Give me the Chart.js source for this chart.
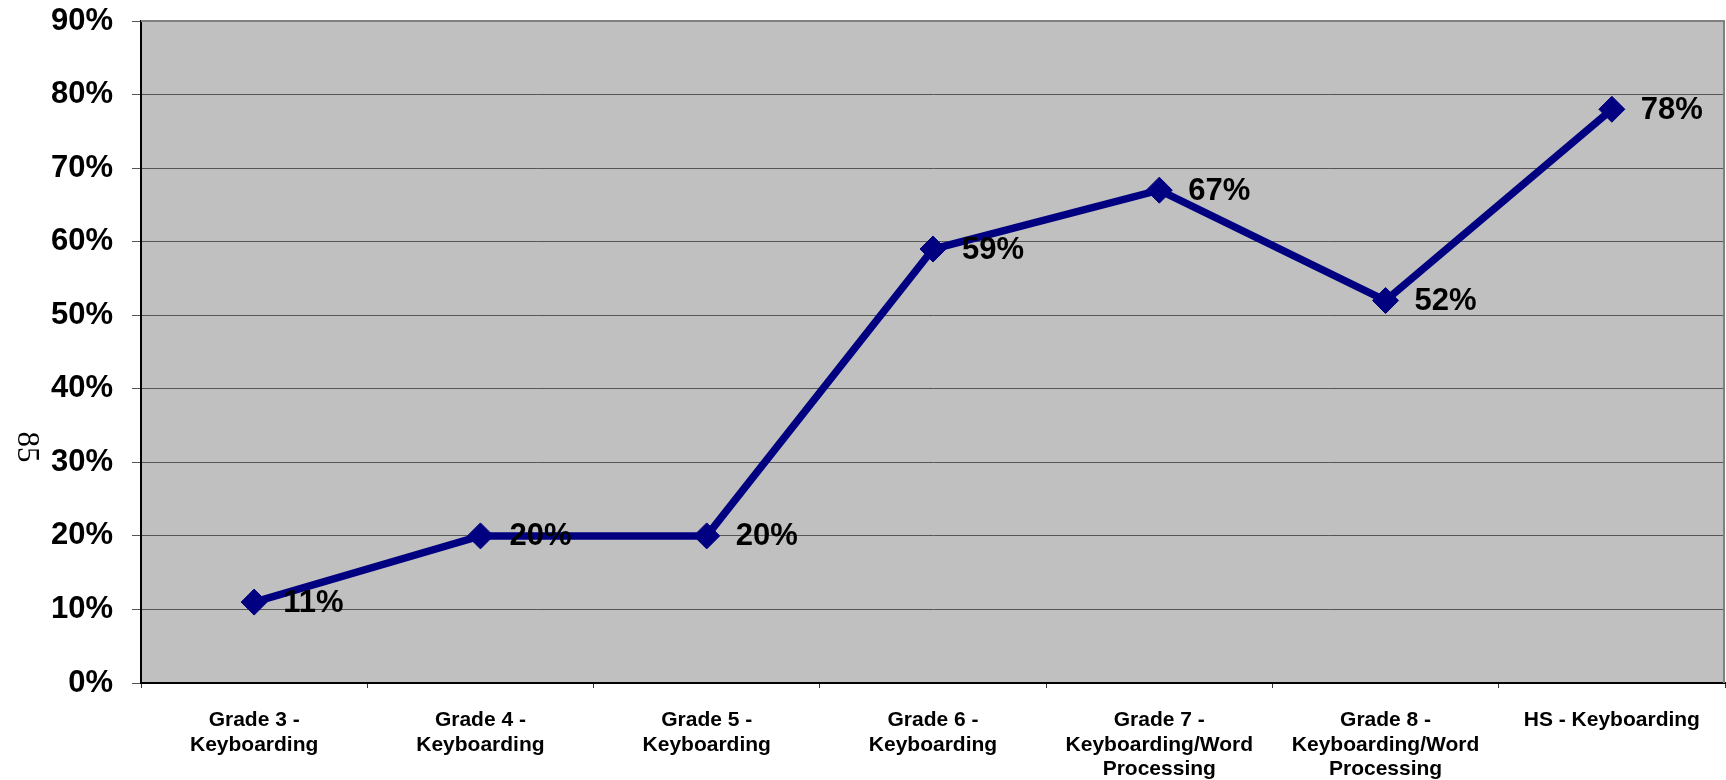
<!DOCTYPE html>
<html>
<head>
<meta charset="utf-8">
<script src="https://cdn.jsdelivr.net/npm/chart.js@4/dist/chart.umd.min.js"></script>
<style>
  html, body { margin: 0; padding: 0; background: #ffffff; }
  #wrap { width: 1726px; height: 780px; }
</style>
</head>
<body>
<div id="wrap"><canvas id="chart" width="1726" height="780"></canvas></div>
<script>
// Course categories (multi-line tick labels)
const categories = [
  ["Grade 3 -", "Keyboarding"],
  ["Grade 4 -", "Keyboarding"],
  ["Grade 5 -", "Keyboarding"],
  ["Grade 6 -", "Keyboarding"],
  ["Grade 7 -", "Keyboarding/Word", "Processing"],
  ["Grade 8 -", "Keyboarding/Word", "Processing"],
  ["HS - Keyboarding"]
];

// Percentage per course
const percentValues = [11, 20, 20, 59, 67, 52, 78];

// Y axis range and side caption
const yMin = 0;
const yMax = 90;
const yStep = 10;
const sideCaption = "85";

const NAVY = "#000080";

// Grey plot area with a grey frame on top and right
const plotBackground = {
  id: "plotBackground",
  beforeDraw(chart) {
    const { ctx, chartArea: a } = chart;
    ctx.save();
    ctx.fillStyle = "#c0c0c0";
    ctx.fillRect(a.left, a.top, a.right - a.left, a.bottom - a.top);
    ctx.restore();
  },
  beforeDatasetsDraw(chart) {
    const { ctx, chartArea: a } = chart;
    ctx.save();
    ctx.strokeStyle = "#808080";
    ctx.lineWidth = 2;
    ctx.beginPath();
    ctx.moveTo(a.left, a.top);
    ctx.lineTo(a.right - 1, a.top);
    ctx.lineTo(a.right - 1, a.bottom);
    ctx.stroke();
    ctx.restore();
  }
};

// Value labels to the right of each marker
const valueLabels = {
  id: "valueLabels",
  afterDatasetsDraw(chart) {
    const { ctx } = chart;
    const meta = chart.getDatasetMeta(0);
    ctx.save();
    ctx.font = "bold 31px 'Liberation Sans', Arial, sans-serif";
    ctx.fillStyle = "#000000";
    ctx.textAlign = "left";
    ctx.textBaseline = "middle";
    meta.data.forEach((pt, i) => {
      const v = chart.data.datasets[0].data[i];
      ctx.fillText(v + "%", pt.x + 29, pt.y + 1);
    });
    ctx.restore();
  }
};

// Rotated caption on the left edge
const sideText = {
  id: "sideText",
  afterDraw(chart) {
    const { ctx } = chart;
    ctx.save();
    ctx.translate(26, 447);
    ctx.rotate(Math.PI / 2);
    ctx.font = "31px 'Liberation Serif', 'Times New Roman', serif";
    ctx.fillStyle = "#000000";
    ctx.textAlign = "center";
    ctx.textBaseline = "middle";
    ctx.fillText(sideCaption, 0, 0);
    ctx.restore();
  }
};

new Chart(document.getElementById("chart"), {
  type: "line",
  data: {
    labels: categories,
    datasets: [{
      data: percentValues,
      borderColor: NAVY,
      backgroundColor: NAVY,
      borderWidth: 7.5,
      tension: 0,
      fill: false,
      pointStyle: "rectRot",
      pointRadius: 13,
      pointBorderWidth: 1,
      pointBackgroundColor: NAVY,
      pointBorderColor: NAVY,
      clip: false
    }]
  },
  options: {
    responsive: false,
    animation: false,
    events: [],
    layout: { autoPadding: false, padding: { top: 21, right: 1, left: 0, bottom: 0 } },
    plugins: {
      legend: { display: false },
      tooltip: { enabled: false },
      title: { display: false }
    },
    scales: {
      x: {
        offset: true,
        grid: {
          offset: true,
          drawOnChartArea: false,
          drawTicks: true,
          tickLength: 5,
          color: "#333333",
          lineWidth: 1
        },
        border: { display: true, color: "#000000", width: 2 },
        ticks: {
          color: "#000000",
          font: { family: "'Liberation Sans', Arial, sans-serif", size: 21, weight: "bold", lineHeight: 24.5 / 21 },
          padding: 20,
          maxRotation: 0,
          autoSkip: false
        },
        afterFit(scale) {
          scale.height = 97;
          scale.paddingLeft = 0;
          scale.paddingRight = 0;
        }
      },
      y: {
        min: yMin,
        max: yMax,
        grid: {
          color: "#555555",
          lineWidth: 1,
          drawTicks: true,
          tickLength: 9
        },
        border: { display: true, color: "#000000", width: 2 },
        ticks: {
          stepSize: yStep,
          color: "#000000",
          padding: 19,
          font: { family: "'Liberation Sans', Arial, sans-serif", size: 31, weight: "bold" },
          callback: (v) => v + "%"
        },
        afterFit(scale) {
          scale.width = 141;
          scale.paddingTop = 0;
          scale.paddingBottom = 0;
        }
      }
    }
  },
  plugins: [plotBackground, valueLabels, sideText]
});
</script>
</body>
</html>
